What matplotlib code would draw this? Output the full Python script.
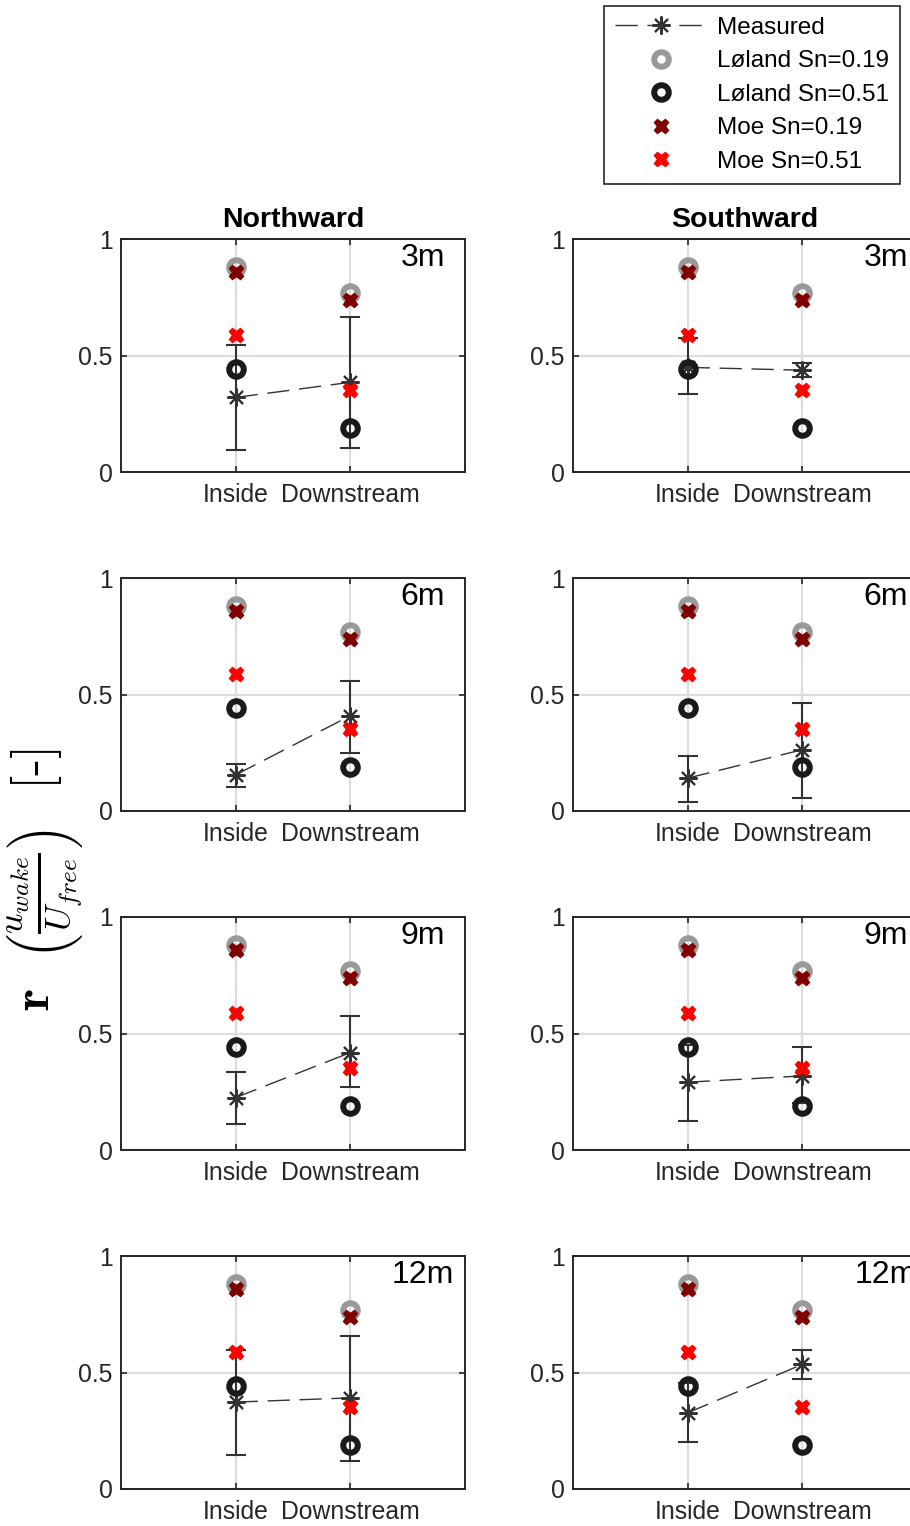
import matplotlib
matplotlib.use("Agg")
import matplotlib.pyplot as plt
from matplotlib.lines import Line2D

plt.rcParams['font.family'] = ['Liberation Sans', 'DejaVu Sans']
plt.rcParams['mathtext.fontset'] = 'cm'

# Data
positions = ['Inside', 'Downstream']
depths = ['3m', '6m', '9m', '12m']

loland_019 = [0.88, 0.77]
loland_051 = [0.44, 0.19]
moe_019 = [0.86, 0.74]
moe_051 = [0.59, 0.35]

north_mean = [[0.32, 0.385], [0.155, 0.409], [0.225, 0.418], [0.373, 0.391]]
north_low = [[0.094, 0.102], [0.103, 0.249], [0.112, 0.271], [0.148, 0.122]]
north_high = [[0.545, 0.664], [0.201, 0.556], [0.334, 0.575], [0.595, 0.656]]

south_mean = [[0.449, 0.437], [0.141, 0.263], [0.291, 0.318], [0.327, 0.535]]
south_low = [[0.335, 0.409], [0.039, 0.055], [0.125, 0.200], [0.201, 0.474]]
south_high = [[0.574, 0.466], [0.234, 0.464], [0.451, 0.440], [0.456, 0.595]]

# colours
c_meas = '#333333'
c_l019 = '#999999'
c_l051 = '#1a1a1a'
c_m019 = '#800000'
c_m051 = '#ff0000'
c_axis = '#262626'

W, H = 910, 1526
fig = plt.figure(figsize=(W / 100, H / 100), dpi=100)

col_x = [121, 573]
ax_w = 344
row_top = [239, 578, 917, 1256]
ax_h = 233
label_x = [0.878, 0.91]

asterisk = (8, 2, 0)
xs = [1, 2]
dash = (0, (16, 7))
fs = 17.8


def draw_panel(ax, mean, low, high, depth, lx):
    yerr = [[m - l for m, l in zip(mean, low)], [h - m for m, h in zip(mean, high)]]
    ax.errorbar(xs, mean, yerr=yerr, fmt='none', ecolor=c_meas, elinewidth=1.5,
                capsize=7, capthick=1.5, zorder=3)
    ax.plot(xs, mean, color=c_meas, lw=1.0, ls=dash, marker=asterisk,
            ms=13, mew=1.5, mec=c_meas, zorder=4)
    ax.plot(xs, loland_019, 'o', ms=10.5, mfc='none', mec=c_l019, mew=4.3, zorder=5)
    ax.plot(xs, loland_051, 'o', ms=10.5, mfc='none', mec=c_l051, mew=4.3, zorder=5)
    ax.plot(xs, moe_019, 'X', ms=10.5, color=c_m019, mec=c_m019, zorder=6)
    ax.plot(xs, moe_051, 'X', ms=10.5, color=c_m051, mec=c_m051, zorder=6)

    ax.set_xlim(0, 3)
    ax.set_ylim(0, 1)
    ax.set_xticks(xs)
    ax.set_xticklabels(positions)
    ax.set_yticks([0, 0.5, 1])
    ax.set_yticklabels(['0', '0.5', '1'])
    ax.grid(True, color='#dcdcdc', lw=1.5)
    ax.set_axisbelow(True)
    ax.tick_params(direction='in', top=True, right=True, length=4, width=1.2,
                   labelsize=fs, colors=c_axis)
    ax.tick_params(axis='x', pad=8)
    ax.tick_params(axis='y', pad=6)
    for s in ax.spines.values():
        s.set_color(c_axis)
        s.set_linewidth(1.4)
    ax.text(lx, 0.92, depth, transform=ax.transAxes, ha='center', va='center',
            fontsize=23, color='black')


for r in range(4):
    for c in range(2):
        ax = fig.add_axes([col_x[c] / W, 1 - (row_top[r] + ax_h) / H, ax_w / W, ax_h / H])
        if c == 0:
            draw_panel(ax, north_mean[r], north_low[r], north_high[r], depths[r], label_x[c])
            if r == 0:
                ax.set_title('Northward', fontsize=20.5, fontweight='bold', pad=9)
        else:
            draw_panel(ax, south_mean[r], south_low[r], south_high[r], depths[r], label_x[c])
            if r == 0:
                ax.set_title('Southward', fontsize=20.5, fontweight='bold', pad=9)

fig.text(45 / W, 1 - 880 / H,
         r'$\mathbf{r}\ \ \left(\frac{u_{wake}}{U_{free}}\right)$  [-]',
         rotation=90, ha='center', va='center', fontsize=37, family='cmr10')

handles = [
    Line2D([], [], color=c_meas, lw=1.0, ls=dash, marker=asterisk, ms=13, mew=1.5),
    Line2D([], [], ls='none', marker='o', ms=10.5, mfc='none', mec=c_l019, mew=4.3),
    Line2D([], [], ls='none', marker='o', ms=10.5, mfc='none', mec=c_l051, mew=4.3),
    Line2D([], [], ls='none', marker='X', ms=10.5, color=c_m019),
    Line2D([], [], ls='none', marker='X', ms=10.5, color=c_m051),
]
labels = ['Measured', 'Løland Sn=0.19', 'Løland Sn=0.51', 'Moe Sn=0.19', 'Moe Sn=0.51']
leg = fig.legend(handles, labels, loc='upper right', bbox_to_anchor=(900 / W, 1 - 6 / H),
                 fontsize=17.5, handlelength=3.8, labelspacing=0.47, borderaxespad=0,
                 fancybox=False, framealpha=1, edgecolor=c_axis, handletextpad=0.4,
                 borderpad=0.45)
leg.get_frame().set_linewidth(1.2)

fig.savefig('out.png', dpi=100)
